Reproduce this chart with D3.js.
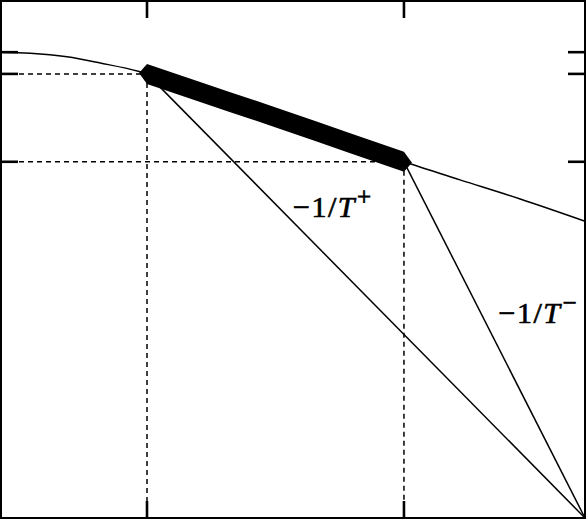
<!DOCTYPE html>
<html>
<head>
<meta charset="utf-8">
<script src="https://cdn.jsdelivr.net/npm/d3@7"></script>
<style>
  html, body { margin: 0; padding: 0; background: #fff; }
  svg { display: block; }
</style>
</head>
<body>
<svg id="chart" width="586" height="519"></svg>
<script>
// ---- data (unit coordinates) ----
const curveX = [0.000, 0.050, 0.113, 0.170, 0.235, 0.250, 0.341, 0.478, 0.598, 0.690, 0.786, 0.889, 1.000];
const curveY = [0.901, 0.899, 0.892, 0.880, 0.864, 0.859, 0.824, 0.772, 0.725, 0.689, 0.654, 0.617, 0.574];
const pointX = [0.250, 0.690];          // T+ , T-
const pointY = [0.859, 0.689];
const cornerPoint = [1.0, 0.0];
const xTicks = [0.250, 0.690];
const yTicks = [0.901, 0.859, 0.689];
const labels = ["T+", "T-"];
const labelX = [0.500, 0.852];
const labelY = [0.582, 0.377];

// ---- scales ----
const W = 586, H = 519;
const xs = d3.scaleLinear().domain([0, 1]).range([1, 585]);
const ys = d3.scaleLinear().domain([0, 1]).range([518, 1]);

const svg = d3.select("#chart");
const curve = curveX.map((x, i) => [x, curveY[i]]);

// main curve
const lineGen = d3.line().x(d => xs(d[0])).y(d => ys(d[1])).curve(d3.curveMonotoneX);
svg.append("path").attr("d", lineGen(curve))
  .attr("fill", "none").attr("stroke", "#000").attr("stroke-width", 1.5);

// dashed guides
pointX.forEach((px, i) => {
  const py = pointY[i];
  svg.append("line")
    .attr("x1", xs(0)).attr("y1", ys(py)).attr("x2", xs(px)).attr("y2", ys(py))
    .attr("stroke", "#000").attr("stroke-width", 1.5).attr("stroke-dasharray", "5,4");
  svg.append("line")
    .attr("x1", xs(px)).attr("y1", ys(py)).attr("x2", xs(px)).attr("y2", ys(0))
    .attr("stroke", "#000").attr("stroke-width", 1.5).attr("stroke-dasharray", "5,4");
});

// lines to the corner
pointX.forEach((px, i) => {
  svg.append("line")
    .attr("x1", xs(px)).attr("y1", ys(pointY[i]))
    .attr("x2", xs(cornerPoint[0])).attr("y2", ys(cornerPoint[1]))
    .attr("stroke", "#000").attr("stroke-width", 1.5);
});

// thick band along the curve between the two points
const half = 10;
const seg = curve.filter(d => d[0] >= pointX[0] - 1e-9 && d[0] <= pointX[1] + 1e-9);
const areaGen = d3.area()
  .x(d => xs(d[0]))
  .y0(d => ys(d[1]) + half)
  .y1(d => ys(d[1]) - half)
  .curve(d3.curveMonotoneX);
svg.append("path").attr("d", areaGen(seg)).attr("fill", "#000");
// pointed ends
const tip = 8;
const polyLine = d3.line();
[[0, -1], [1, 1]].forEach(([i, dir]) => {
  const cx = xs(pointX[i]), cy = ys(pointY[i]);
  svg.append("path")
    .attr("d", polyLine([[cx, cy - half], [cx + dir * tip, cy + (dir > 0 ? 1 : -1)], [cx, cy + half]]) + "Z")
    .attr("fill", "#000");
});

// frame
svg.append("rect")
  .attr("x", xs(0)).attr("y", ys(1))
  .attr("width", xs(1) - xs(0)).attr("height", ys(0) - ys(1))
  .attr("fill", "none").attr("stroke", "#000").attr("stroke-width", 2);

// ticks
const tl = 17;
xTicks.forEach(t => {
  svg.append("line").attr("x1", xs(t)).attr("x2", xs(t)).attr("y1", ys(1)).attr("y2", ys(1) + tl)
    .attr("stroke", "#000").attr("stroke-width", 2.6);
  svg.append("line").attr("x1", xs(t)).attr("x2", xs(t)).attr("y1", ys(0)).attr("y2", ys(0) - tl)
    .attr("stroke", "#000").attr("stroke-width", 2.6);
});
yTicks.forEach(t => {
  svg.append("line").attr("x1", xs(0)).attr("x2", xs(0) + tl).attr("y1", ys(t)).attr("y2", ys(t))
    .attr("stroke", "#000").attr("stroke-width", 2.6);
  svg.append("line").attr("x1", xs(1)).attr("x2", xs(1) - tl).attr("y1", ys(t)).attr("y2", ys(t))
    .attr("stroke", "#000").attr("stroke-width", 2.6);
});

// labels  −1/T⁺  and  −1/T⁻
labels.forEach((lab, i) => {
  const sup = lab.endsWith("+") ? "+" : "\u2212";
  const t = svg.append("text")
    .attr("x", xs(labelX[i])).attr("y", ys(labelY[i]))
    .attr("font-family", "'Liberation Serif', 'Times New Roman', serif")
    .attr("font-size", 30).attr("letter-spacing", 1.5).attr("fill", "#000")
    .attr("stroke", "#000").attr("stroke-width", 0.7);
  t.append("tspan").text("\u22121/");
  t.append("tspan").attr("font-style", "italic").text("T");
  t.append("tspan").attr("font-size", 25).attr("dy", -12).attr("dx", 1).text(sup);
});
</script>
</body>
</html>
